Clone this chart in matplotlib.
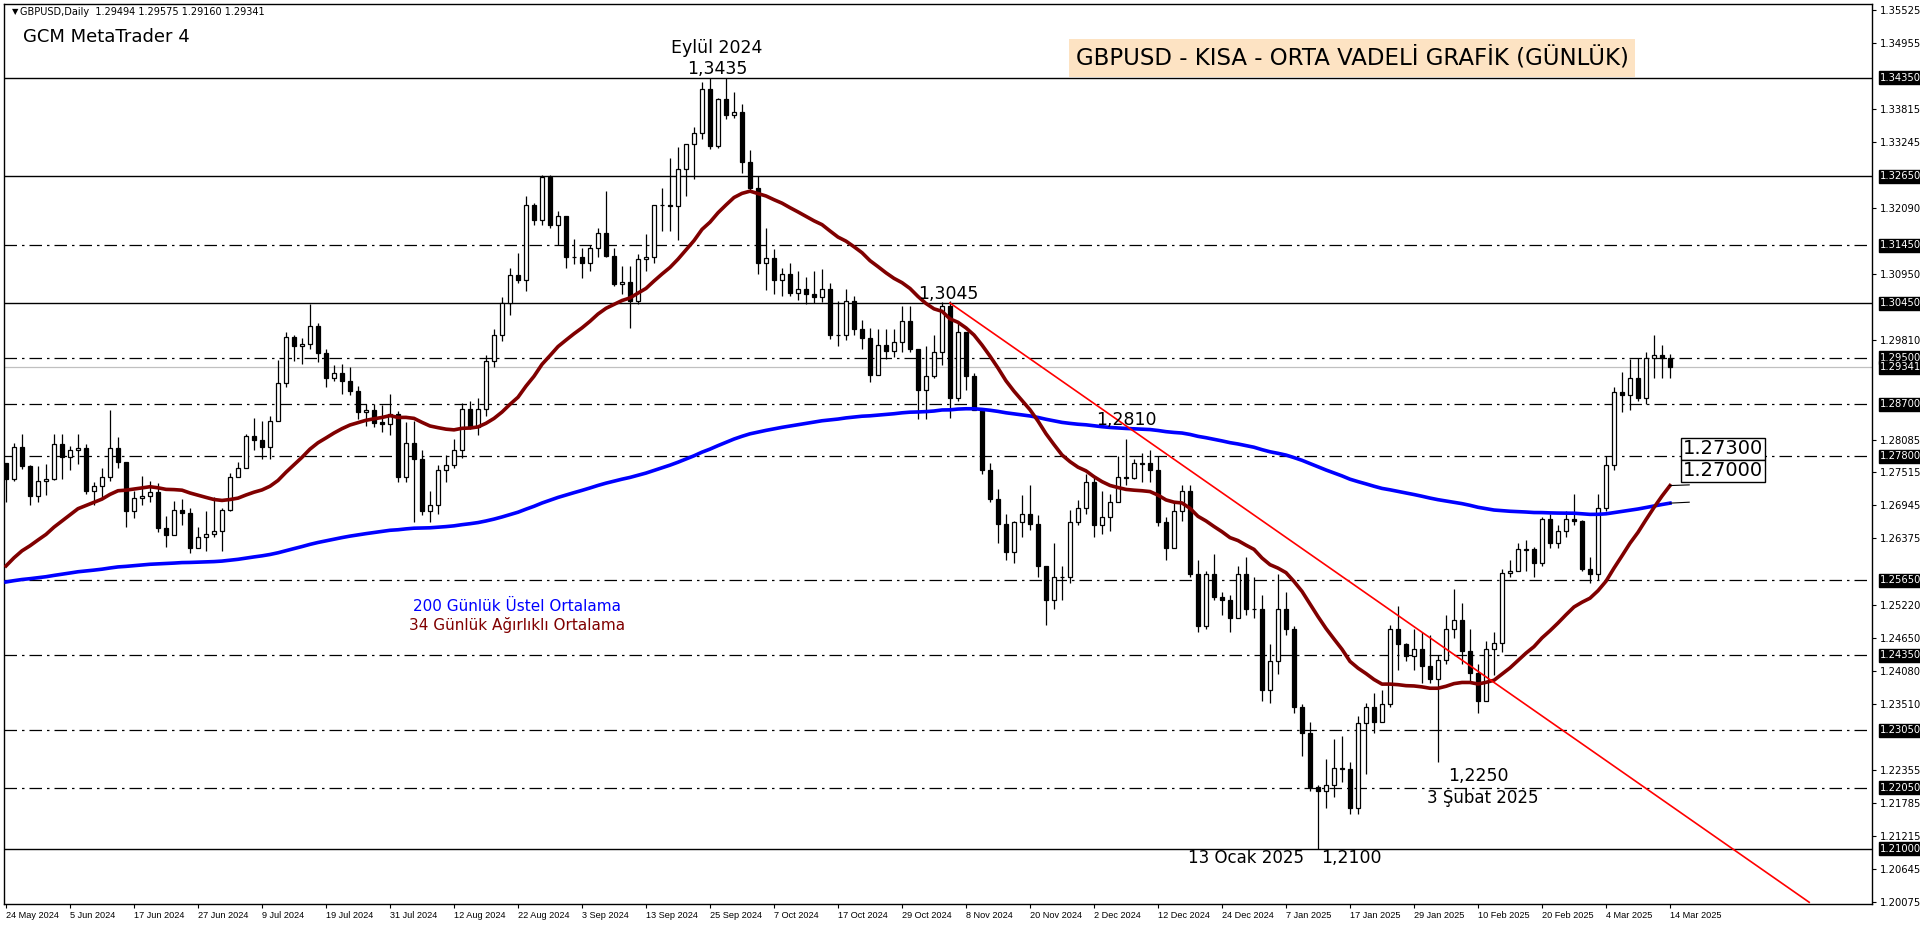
import matplotlib
matplotlib.use("Agg")
import matplotlib.pyplot as plt
import numpy as np
import pandas as pd

# ---------------- data ----------------
closes = [1.2740,1.2795,1.2763,1.2711,1.2737,1.2740,
 1.2800,1.2778,1.2790,1.2793,1.2720,1.2728,1.2743,1.2793,1.2770,1.2685,1.2707,1.2710,1.2718,1.2656,1.2644,1.2686,1.2682,1.2620,1.2640,1.2645,
 1.2650,1.2687,1.2744,1.2760,1.2815,1.2808,1.2795,1.2840,1.2907,1.2986,1.2970,1.2974,1.3005,1.2958,1.2916,1.2924,1.2910,1.2893,1.2857,1.2860,1.2838,1.2836,1.2853,
 1.2744,1.2803,1.2774,1.2685,1.2695,1.2755,1.2764,1.2790,1.2862,1.2830,1.2861,1.2944,1.2990,1.3045,1.3094,1.3085,1.3215,1.3188,1.3263,1.3180,1.3195,1.3125,
 1.3125,1.3115,1.3140,1.3166,1.3126,1.3078,1.3081,1.3048,1.3122,1.3124,1.3215,1.3215,1.3213,1.3277,1.3320,1.3340,1.3416,1.3317,1.3398,1.3370,1.3375,
 1.3290,1.3245,1.3115,1.3123,1.3085,1.3095,1.3063,1.3070,1.3061,1.3055,1.3069,1.2990,1.2990,1.3048,1.3000,1.2985,1.2920,1.2973,1.2962,1.2978,1.3013,1.2966,1.2894,
 1.2919,1.2960,1.3040,1.2880,1.2994,1.2918,1.2860,1.2756,1.2706,1.2662,1.2614,1.2665,1.2680,1.2663,1.2589,1.2531,1.2570,1.2570,1.2665,1.2690,1.2735,
 1.2660,1.2675,1.2700,1.2743,1.2742,1.2767,1.2767,1.2755,1.2665,1.2620,1.2685,1.2720,1.2575,1.2485,1.2575,1.2535,1.2530,1.2500,1.2575,1.2515,1.2515,
 1.2375,1.2425,1.2515,1.2480,1.2345,1.2300,1.2207,1.2200,1.2210,1.2240,1.2238,1.2170,1.2318,1.2345,1.2320,1.2350,1.2480,1.2455,1.2433,1.2445,1.2416,1.2393,
 1.2426,1.2480,1.2495,1.2443,1.2404,1.2355,1.2445,1.2456,1.2578,1.2580,1.2618,1.2618,1.2595,1.2670,1.2630,1.2650,1.2670,1.2667,1.2585,1.2575,
 1.2690,1.2765,1.2890,1.2885,1.2915,1.2880,1.2950,1.2955,1.29494,1.29341]
highs = [1.2760,1.2802,1.2818,1.2765,1.2762,1.2767,
 1.2818,1.2818,1.2797,1.2818,1.2800,1.2735,1.2760,1.2860,1.2813,1.2770,1.2720,1.2745,1.2736,1.2734,1.2676,1.2702,1.2705,1.2690,1.2657,1.2685,
 1.2709,1.2690,1.2750,1.2770,1.2818,1.2845,1.2840,1.2850,1.2947,1.2995,1.2990,1.2985,1.3044,1.3010,1.2966,1.2938,1.2940,1.2935,1.2902,1.2870,1.2870,1.2869,1.2888,
 1.2858,1.2839,1.2840,1.2790,1.2720,1.2765,1.2782,1.2810,1.2872,1.2875,1.2880,1.2955,1.3000,1.3055,1.3105,1.3131,1.3230,1.3218,1.3266,1.3267,1.3205,1.3192,
 1.3156,1.3140,1.3145,1.3175,1.3239,1.3140,1.3110,1.3110,1.3130,1.3165,1.3215,1.3245,1.3297,1.3316,1.3320,1.3350,1.3428,1.3434,1.3400,1.3435,1.3410,
 1.3390,1.3310,1.3265,1.3175,1.3138,1.3105,1.3115,1.3100,1.3090,1.3100,1.3104,1.3080,1.3048,1.3070,1.3058,1.3015,1.3002,1.3000,1.3000,1.3000,1.3040,1.3040,1.2965,
 1.2970,1.2990,1.3047,1.3048,1.3010,1.2995,1.2924,1.2862,1.2768,1.2723,1.2680,1.2668,1.2713,1.2730,1.2678,1.2590,1.2630,1.2590,1.2687,1.2704,1.2748,
 1.2745,1.2720,1.2715,1.2780,1.2810,1.2775,1.2785,1.2790,1.2780,1.2675,1.2700,1.2730,1.2730,1.2600,1.2580,1.2610,1.2545,1.2540,1.2590,1.2605,1.2570,
 1.2540,1.2455,1.2575,1.2545,1.2485,1.2350,1.2320,1.2210,1.2255,1.2290,1.2295,1.2250,1.2330,1.2353,1.2370,1.2375,1.2488,1.2520,1.2456,1.2480,1.2475,1.2470,
 1.2436,1.2505,1.2550,1.2525,1.2480,1.2420,1.2460,1.2475,1.2584,1.2600,1.2630,1.2635,1.2622,1.2675,1.2680,1.2660,1.2685,1.2715,1.2670,1.2605,
 1.2715,1.2780,1.2900,1.2925,1.2948,1.2950,1.2960,1.2990,1.2972,1.29575]
lows = [1.2700,1.2737,1.2757,1.2695,1.2700,1.2712,
 1.2738,1.2740,1.2756,1.2767,1.2714,1.2695,1.2707,1.2737,1.2760,1.2657,1.2673,1.2695,1.2700,1.2649,1.2623,1.2649,1.2660,1.2612,1.2620,1.2616,
 1.2640,1.2615,1.2684,1.2745,1.2760,1.2790,1.2774,1.2775,1.2840,1.2900,1.2945,1.2940,1.2965,1.2943,1.2900,1.2910,1.2888,1.2886,1.2844,1.2832,1.2830,1.2822,1.2817,
 1.2735,1.2735,1.2665,1.2677,1.2665,1.2680,1.2735,1.2760,1.2777,1.2826,1.2817,1.2850,1.2935,1.2980,1.3025,1.3080,1.3065,1.3180,1.3180,1.3175,1.3145,1.3105,
 1.3112,1.3088,1.3100,1.3125,1.3125,1.3074,1.3060,1.3002,1.3043,1.3100,1.3115,1.3170,1.3170,1.3155,1.3230,1.3260,1.3330,1.3312,1.3313,1.3363,1.3365,
 1.3270,1.3240,1.3095,1.3068,1.3060,1.3058,1.3057,1.3050,1.3043,1.3045,1.3046,1.2983,1.2970,1.2981,1.2989,1.2965,1.2908,1.2932,1.2948,1.2952,1.2960,1.2960,1.2844,
 1.2844,1.2915,1.2938,1.2845,1.2876,1.2895,1.2860,1.2748,1.2700,1.2630,1.2600,1.2595,1.2640,1.2652,1.2570,1.2487,1.2515,1.2530,1.2560,1.2660,1.2680,
 1.2640,1.2645,1.2650,1.2700,1.2730,1.2740,1.2735,1.2735,1.2658,1.2600,1.2620,1.2668,1.2570,1.2475,1.2480,1.2530,1.2505,1.2475,1.2515,1.2505,1.2500,
 1.2355,1.2353,1.2402,1.2470,1.2335,1.2260,1.2200,1.2100,1.2170,1.2190,1.2215,1.2160,1.2160,1.2230,1.2300,1.2320,1.2345,1.2410,1.2425,1.2410,1.2386,1.2387,
 1.2250,1.2420,1.2465,1.2420,1.2390,1.2335,1.2355,1.2400,1.2440,1.2570,1.2580,1.2580,1.2570,1.2590,1.2620,1.2620,1.2640,1.2660,1.2580,1.2560,
 1.2566,1.2684,1.2755,1.2857,1.2860,1.2875,1.2870,1.2915,1.2915,1.2916]
first_open = 1.2768
prior_closes = [1.2667,1.2550,1.2556,1.2450,1.2446,1.2428,1.2428,1.2438,1.2370,1.2350,1.2458,1.2465,
 1.2495,1.2490,1.2560,1.2490,1.2535,1.2537,1.2545,1.2560,1.2490,1.2495,1.2525,1.2525,1.2562,1.2585,
 1.2670,1.2670,1.2705,1.2705,1.2710,1.2718,1.2705]
ema_seed = 1.2560
solid_levels = [1.3435, 1.3265, 1.3045, 1.2100]
dash_levels = [1.3145, 1.2950, 1.2870, 1.2780, 1.2565, 1.2435, 1.2305, 1.2205]
axis_ticks = [1.35525,1.34955,1.33815,1.33245,1.32090,1.30950,1.29810,1.28085,
 1.27515,1.26945,1.26375,1.25220,1.24650,1.24080,1.23510,1.22355,1.21785,1.21215,1.20645,1.20075]
last_price = 1.29341
trend_start = (118, 1.3045)
trend_end = (225.4, 1.2007)

n = len(closes)
dates = pd.bdate_range("2024-05-24", "2025-03-31")
dates = [d for d in dates if not (d.month == 12 and d.day == 25) and not (d.month == 1 and d.day == 1)][:n]
opens = [first_open] + closes[:-1]

# indicators
allc = np.array(prior_closes + closes)
w = np.arange(1, 35)
wma = np.array([np.dot(allc[i-33:i+1], w) / w.sum() for i in range(33, len(allc))])[-n:]
ema = []
e = ema_seed
for c in closes:
    e = e + (c - e) * 2 / 201
    ema.append(e)

# ---------------- figure ----------------
W, H = 1920, 927
fig = plt.figure(figsize=(W/100, H/100), dpi=100)
L, R, T, B = 4, 1872, 4, 904
ax = fig.add_axes([L/W, 1-B/H, (R-L)/W, (B-T)/H])
x = np.arange(n)
ax.set_xlim(-0.25, 233.25)
ax.set_ylim(1.20040, 1.35630)

for lv in solid_levels:
    ax.axhline(lv, color="black", lw=1.0, zorder=1)
for lv in dash_levels:
    ax.axhline(lv, color="black", lw=0.9, ls=(0, (10, 4, 2, 4)), zorder=1)
ax.axhline(last_price, color="#c0c0c0", lw=0.9, zorder=1)

o = np.array(opens); c = np.array(closes); h = np.array(highs); l = np.array(lows)
ax.vlines(x, l, h, color="black", lw=0.9, zorder=3)
up = c >= o
ax.bar(x, np.abs(c-o)+1e-5, bottom=np.minimum(o, c), width=0.62,
       color=np.where(up, "white", "black"), edgecolor="black", lw=0.9, zorder=4)

ax.plot(x, ema, color="#0000ff", lw=2.6, zorder=5)
ax.plot(x, wma, color="#800000", lw=2.6, zorder=6)
ax.plot([trend_start[0], trend_end[0]], [trend_start[1], trend_end[1]], color="#ff0000", lw=1.2, zorder=7)

ax.yaxis.tick_right()
ax.set_yticks(axis_ticks)
ax.set_yticklabels([f"{t:.5f}" for t in axis_ticks], fontsize=7.2)
ax.tick_params(axis="y", length=3, pad=3)
tick_idx = list(range(0, n, 8))
ax.set_xticks(tick_idx)
ax.set_xticklabels([f"{dates[i].day} {dates[i].strftime('%b %Y')}" for i in tick_idx],
                   fontsize=6.6, ha="left", family="Liberation Sans")
ax.tick_params(axis="x", length=3, pad=2)
for sp in ax.spines.values():
    sp.set_linewidth(1.0)

# boxed level labels on axis
for lv in solid_levels + dash_levels + [last_price]:
    ax.annotate(f"{lv:.5f}", xy=(1.0, lv), xycoords=("axes fraction", "data"),
                xytext=(6, 0), textcoords="offset points", va="center", ha="left",
                fontsize=7.2, color="white", annotation_clip=False,
                bbox=dict(boxstyle="square,pad=0.15", fc="black", ec="black"), zorder=10)

def ft(xp, yp, s, **kw):
    fig.text(xp/W, 1-yp/H, s, **kw)

ft(12, 12, "▼", fontsize=6, va="center")
ft(20, 12, "GBPUSD,Daily  1.29494 1.29575 1.29160 1.29341", fontsize=7, va="center")
ft(23, 37, "GCM MetaTrader 4", fontsize=13, va="center")
ft(1352, 58, "GBPUSD - KISA - ORTA VADELİ GRAFİK (GÜNLÜK)", fontsize=16.5, va="center", ha="center",
   bbox=dict(boxstyle="square,pad=0.3", fc="#fde3c3", ec="none"))
ft(717, 48, "Eylül 2024", fontsize=12.5, va="center", ha="center")
ft(717, 69, "1,3435", fontsize=12.5, va="center", ha="center")
ft(948, 294, "1,3045", fontsize=12.5, va="center", ha="center")
ft(1126, 420, "1,2810", fontsize=12.5, va="center", ha="center")
ft(517, 606, "200 Günlük Üstel Ortalama", fontsize=11, va="center", ha="center", color="#0000ff")
ft(517, 625, "34 Günlük Ağırlıklı Ortalama", fontsize=11, va="center", ha="center", color="#800000")
ft(1478, 776, "1,2250", fontsize=12.5, va="center", ha="center")
ft(1483, 798, "3 Şubat 2025", fontsize=12, va="center", ha="center")
ft(1246, 858, "13 Ocak 2025", fontsize=12, va="center", ha="center")
ft(1351, 858, "1,2100", fontsize=12.5, va="center", ha="center")
ft(1683, 449, "1.27300", fontsize=14, va="center", ha="left",
   bbox=dict(boxstyle="square,pad=0.08", fc="white", ec="black", lw=1))
ft(1683, 471, "1.27000", fontsize=14, va="center", ha="left",
   bbox=dict(boxstyle="square,pad=0.08", fc="white", ec="black", lw=1))
ax.plot([n-1, n+1.4], [wma[-1], 1.2730], color="black", lw=0.8, zorder=8)
ax.plot([n-1, n+1.4], [ema[-1], 1.2700], color="black", lw=0.8, zorder=8)

fig.savefig("out.png", dpi=100, facecolor="white")
